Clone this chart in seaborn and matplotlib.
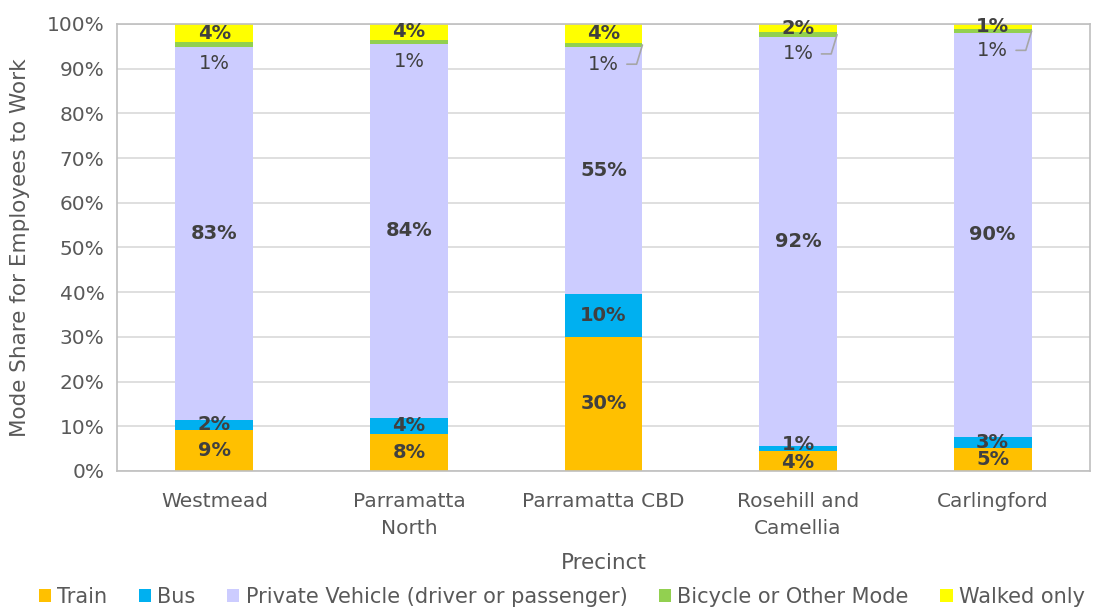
import matplotlib
matplotlib.use("Agg")
import matplotlib.pyplot as plt
from matplotlib.patches import Patch
from matplotlib.ticker import FuncFormatter, MultipleLocator
import seaborn as sns
import pandas as pd
import numpy as np

# ---- data ----
precincts = ["Westmead", "Parramatta\nNorth", "Parramatta CBD", "Rosehill and\nCamellia", "Carlingford"]
modes = ["Train", "Bus", "Private Vehicle (driver or passenger)", "Bicycle or Other Mode", "Walked only"]
train = [9.2, 8.3, 30.0, 4.4, 5.1]
bus = [2.2, 3.6, 9.6, 1.1, 2.6]
private = [83.4, 83.6, 55.2, 91.6, 90.2]
bicycle = [1.1, 1.0, 1.0, 1.0, 1.0]
walked = [4.1, 3.6, 4.2, 1.9, 1.1]
leader_bars = [False, False, True, True, True]

colors = ["#FFC000", "#00B0F0", "#CCCCFF", "#92D050", "#FFFF00"]
series = [train, bus, private, bicycle, walked]

sns.set_theme(style="white")
plt.rcParams["font.family"] = ["DejaVu Sans"]

fig = plt.figure(figsize=(10.97, 6.10), dpi=100)
ax = fig.add_axes([0.1067, 0.228, 0.8869, 0.7327])

vals = np.array(series)  # modes x precincts
cum = np.cumsum(vals, axis=0)
bottoms = cum - vals

# draw stacked bars from top layer down
for k in range(len(modes) - 1, -1, -1):
    df = pd.DataFrame({"Precinct": precincts, "value": cum[k]})
    sns.barplot(data=df, x="Precinct", y="value", order=precincts, color=colors[k],
                saturation=1, width=0.4, linewidth=0, ax=ax, zorder=2)

ax.set_ylim(0, 100)
ax.set_xlim(-0.5, len(precincts) - 0.5)
ax.yaxis.set_major_locator(MultipleLocator(10))
ax.yaxis.set_major_formatter(FuncFormatter(lambda v, p: f"{v:.0f}%"))
ax.grid(axis="y", color="#D9D9D9", linewidth=1.2, zorder=0)
ax.set_axisbelow(True)
for s in ax.spines.values():
    s.set_visible(True)
    s.set_color("#BFBFBF")
    s.set_linewidth(1.2)
ax.tick_params(axis="y", length=0, labelsize=14.5, colors="#595959", pad=9)
ax.tick_params(axis="x", length=0, labelsize=14.5, colors="#595959", pad=15)
ax.set_xticks(range(len(precincts)))
ax.set_xticklabels(precincts, fontsize=14.5, color="#595959", linespacing=1.55)
ax.set_xlabel("Precinct", fontsize=15.5, color="#595959", labelpad=11)
ax.set_ylabel("Mode Share for Employees to Work", fontsize=15.5, color="#595959", labelpad=12)

lab_kw = dict(ha="center", va="center", fontsize=14, fontweight="bold", color="#404040", zorder=5)
half_w = 0.2
for i in range(len(precincts)):
    for k in range(len(modes)):
        v = vals[k, i]
        mid = bottoms[k, i] + v / 2
        txt = f"{v:.0f}%"
        if k == 3:
            y = mid - 4.3
            ax.text(i, y, txt, **{**lab_kw, "fontweight": "normal"})
            if leader_bars[i]:
                ax.plot([i + 0.12, i + 0.17, i + half_w], [y, y, mid],
                        color="#A6A6A6", linewidth=1.2, zorder=4)
        elif k == 1 and v < 2:
            ax.text(i, cum[k, i] + 0.3, txt, **lab_kw)
        elif k == 0 and v < 5:
            ax.text(i, mid - 0.4, txt, **lab_kw)
        else:
            ax.text(i, mid, txt, **lab_kw)

handles = [Patch(facecolor=c, edgecolor="none", label=m) for c, m in zip(colors, modes)]
fig.legend(handles=handles, loc="center", bbox_to_anchor=(0.512, 0.022), ncol=5, frameon=False,
           fontsize=15, labelcolor="#595959", handlelength=0.6, handleheight=0.6,
           handletextpad=0.3, columnspacing=1.5)

fig.savefig("out.png", dpi=100)
